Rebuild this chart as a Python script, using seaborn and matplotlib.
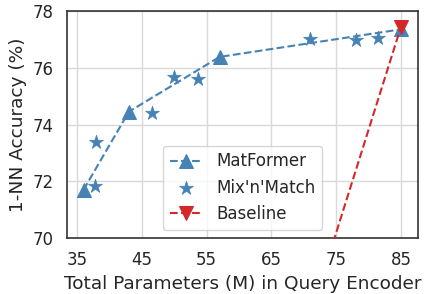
import seaborn as sns
import matplotlib.pyplot as plt
import pandas as pd

# MatFormer (nested sub-models)
matformer_params = [36, 43, 57, 85]
matformer_acc = [71.7, 74.45, 76.38, 77.35]

# Mix'n'Match models
mnm_params = [37.8, 38.0, 46.5, 50.0, 53.6, 71.0, 78.0, 81.5]
mnm_acc = [71.85, 73.4, 74.42, 75.66, 75.6, 77.02, 76.97, 77.06]

# Baseline (independently trained)
baseline_params = [71, 85]
baseline_acc = [67.3, 77.45]

sns.set_theme(style="whitegrid",
              rc={"axes.edgecolor": ".2", "grid.color": ".85", "axes.linewidth": 1.2,
                  "xtick.labelsize": 12, "ytick.labelsize": 12,
                  "axes.labelsize": 13.3, "legend.fontsize": 12})

fig, ax = plt.subplots(figsize=(4.26, 2.94), dpi=100)

blue = "#4682b4"
red = "#d62728"

mf = pd.DataFrame({"params": matformer_params, "acc": matformer_acc})
mm = pd.DataFrame({"params": mnm_params, "acc": mnm_acc})
bl = pd.DataFrame({"params": baseline_params, "acc": baseline_acc})

sns.lineplot(data=mf, x="params", y="acc", ax=ax, color=blue, linestyle="--",
             marker="^", markersize=10.5, markeredgecolor=blue, label="MatFormer", zorder=3)
sns.scatterplot(data=mm, x="params", y="acc", ax=ax, color=blue, marker="*", s=110,
                edgecolor=blue, linewidth=0.5, label="Mix'n'Match", zorder=3)
sns.lineplot(data=bl, x="params", y="acc", ax=ax, color=red, linestyle="--",
             marker="v", markersize=10.5, markeredgecolor=red, label="Baseline", zorder=4)

ax.set_xlim(33.5, 87.6)
ax.set_ylim(70, 78)
ax.set_xticks([35, 45, 55, 65, 75, 85])
ax.set_yticks([70, 72, 74, 76, 78])
ax.set_xlabel("Total Parameters (M) in Query Encoder")
ax.set_ylabel("1-NN Accuracy (%)")
for s in ax.spines.values():
    s.set_visible(True)

ax.legend(loc="lower center", bbox_to_anchor=(0.5, 0.0), frameon=True)

fig.subplots_adjust(left=0.158, right=0.981, top=0.963, bottom=0.19)
fig.savefig("out.png", dpi=100)
